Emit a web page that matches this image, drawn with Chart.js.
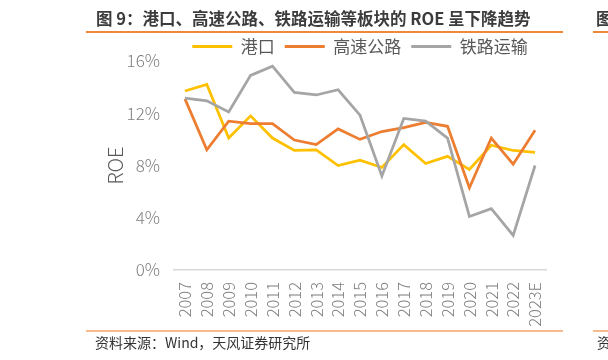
<!DOCTYPE html>
<html><head><meta charset="utf-8">
<script src="https://cdn.jsdelivr.net/npm/chart.js@4/dist/chart.umd.min.js"></script>
<style>
html,body{margin:0;padding:0;background:#fff;}
#wrap{position:relative;width:608px;height:360px;overflow:hidden;font-family:"Noto Sans CJK SC","Noto Sans",sans-serif;}
canvas{position:absolute;left:0;top:0;}
.t{position:absolute;white-space:nowrap;}
.rule{position:absolute;height:2px;}
#title{left:96px;top:7px;font-size:16.5px;font-weight:bold;color:#3c3c3c;line-height:22px;}
#src{left:95px;top:332px;font-size:14px;color:#333;line-height:20px;}
#frag1{left:596px;top:7px;font-size:16.5px;font-weight:bold;color:#3c3c3c;line-height:22px;}
#frag2{left:597px;top:332px;font-size:14px;color:#333;line-height:20px;}
</style></head>
<body>
<div id="wrap">
<canvas id="c" width="608" height="360" style="width:608px;height:360px"></canvas>
<div class="t" id="title">图 9：港口、高速公路、铁路运输等板块的 ROE 呈下降趋势</div>
<div class="rule" style="left:86px;width:477px;top:31px;background:#f0883a"></div>
<div class="rule" style="left:593px;width:15px;top:31px;background:#f0883a"></div>
<div class="t" id="frag1">图</div>
<div class="rule" style="left:86px;width:477px;top:330px;background:#f7bb8e"></div>
<div class="rule" style="left:593px;width:15px;top:330px;background:#f7bb8e"></div>
<div class="t" id="src">资料来源：Wind，天风证券研究所</div>
<div class="t" id="frag2">资</div>
</div>
<script>
const years = ['2007','2008','2009','2010','2011','2012','2013','2014','2015','2016','2017','2018','2019','2020','2021','2022','2023E'];
const seriesNames = ['港口','高速公路','铁路运输'];
const ports   = [13.7,14.2,10.1,11.8,10.1,9.15,9.2,8.0,8.4,7.85,9.6,8.15,8.7,7.7,9.55,9.15,9.0];
const highway = [13.1,9.2,11.4,11.2,11.2,9.95,9.6,10.8,10.0,10.6,10.9,11.3,11.0,6.3,10.1,8.1,10.7];
const railway = [13.15,12.95,12.1,14.9,15.6,13.6,13.4,13.8,11.85,7.2,11.6,11.4,10.1,4.1,4.7,2.65,8.0];
const yTicks = [0,4,8,12,16];
const yTitle = 'ROE';

const colors = ['#FFC000','#ED7D31','#A5A5A5'];
const FONT = '"Noto Sans CJK SC","Noto Sans",sans-serif';

const legendFix = {
  id:'legendFix',
  beforeInit(chart){
    const lg = chart.legend;
    if(lg){ const f = lg.fit; lg.fit = function(){ f.call(this); this.height = 33; }; }
  },
  afterLayout(chart){
    const lg = chart.legend;
    if(lg){ lg.left = chart.chartArea.left; lg.right = chart.chartArea.right; }
  }
};

function ds(label, data, color, order){
  return {label, data, borderColor:color, backgroundColor:color, borderWidth:2.75,
    pointRadius:0, pointHoverRadius:0, tension:0, fill:false, order};
}

new Chart(document.getElementById('c'), {
  type:'line',
  data:{labels:years, datasets:[
    ds(seriesNames[0], ports, colors[0], 3),
    ds(seriesNames[1], highway, colors[1], 2),
    ds(seriesNames[2], railway, colors[2], 1)
  ]},
  options:{
    responsive:false, animation:false, devicePixelRatio:1,
    layout:{padding:{left:100,right:62,top:28,bottom:30}},
    plugins:{
      tooltip:{enabled:false},
      legend:{position:'top', align:'center',
        labels:{boxWidth:40, boxHeight:3, padding:10, color:'#595959',
          font:{family:FONT, size:17},
          sort:(a,b)=>a.datasetIndex-b.datasetIndex,
          generateLabels(chart){
            return chart.data.datasets.map((d,i)=>({text:d.label, fillStyle:d.borderColor,
              strokeStyle:d.borderColor, lineWidth:0, hidden:false, datasetIndex:i, fontColor:'#595959'}));
          }
        }
      }
    },
    scales:{
      x:{offset:true,
        grid:{display:false, drawTicks:false},
        border:{display:true, color:'#d9d9d9', width:1.5},
        ticks:{minRotation:90, maxRotation:90, padding:12, color:'#7f7f7f', font:{family:FONT, size:16.5, weight:300}, autoSkip:false},
        afterFit(s){ s.height = 60; }
      },
      y:{min:0, max:16,
        grid:{display:false, drawTicks:false},
        border:{display:false},
        afterBuildTicks(s){ s.ticks = yTicks.map(v=>({value:v})); },
        ticks:{padding:14, color:'#7f7f7f', font:{family:FONT, size:17, weight:300}, callback:v=>v+'%'},
        title:{display:true, text:yTitle, color:'#595959', font:{family:FONT, size:20, weight:300}, padding:{top:3,bottom:0}},
        afterFit(s){ s.width = 74; }
      }
    }
  },
  plugins:[legendFix]
});
</script>
</body></html>
